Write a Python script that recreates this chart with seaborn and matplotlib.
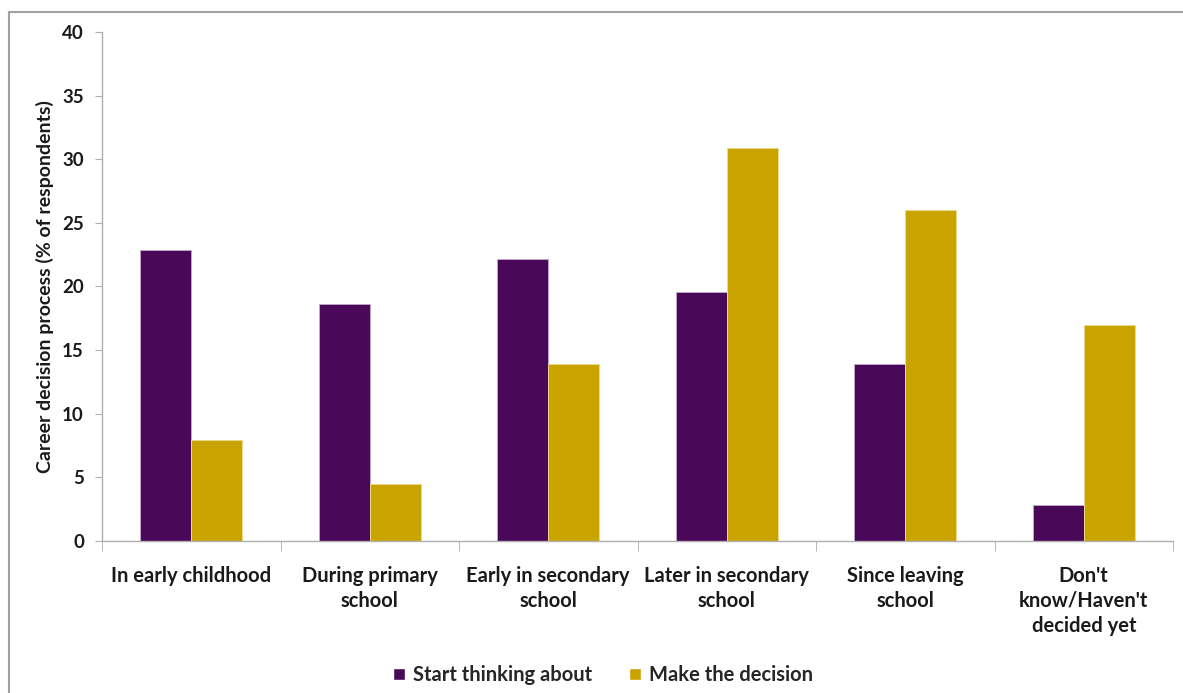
import matplotlib
matplotlib.use("Agg")
import matplotlib.pyplot as plt
import seaborn as sns
import pandas as pd
from matplotlib.lines import Line2D
from matplotlib.patches import Patch

categories = ["In early childhood", "During primary\nschool", "Early in secondary\nschool",
              "Later in secondary\nschool", "Since leaving\nschool", "Don't\nknow/Haven't\ndecided yet"]
series_names = ["Start thinking about", "Make the decision"]
start_thinking = [22.9, 18.6, 22.2, 19.6, 13.9, 2.8]
make_decision = [7.9, 4.5, 13.9, 30.9, 26.0, 17.0]
y_ticks = [0, 5, 10, 15, 20, 25, 30, 35, 40]
colors = ["#4A0858", "#C9A400"]
edge_colors = ["#c0a4c8", "#ecd98a"]

df = pd.DataFrame({
    "category": categories * 2,
    "series": [series_names[0]] * len(categories) + [series_names[1]] * len(categories),
    "value": start_thinking + make_decision,
})

sns.set_style("white")
plt.rcParams["font.family"] = ["Lato", "DejaVu Sans"]
plt.rcParams["font.weight"] = "bold"

fig = plt.figure(figsize=(11.83, 6.93), dpi=100)
ax = fig.add_axes([102 / 1183, 1 - 541 / 693, (1173 - 102) / 1183, (541 - 32) / 693])

sns.barplot(data=df, x="category", y="value", hue="series", order=categories,
            hue_order=series_names, palette=colors, saturation=1, width=0.572, gap=0,
            ax=ax, legend=False)

for i, cont in enumerate(ax.containers):
    for p in cont:
        p.set_edgecolor(edge_colors[i])
        p.set_linewidth(0.7)

ax.set_xlim(-0.5, len(categories) - 0.5)
ax.set_ylim(0, 40)
ax.set_yticks(y_ticks)
ax.set_yticklabels([str(t) for t in y_ticks], fontsize=13.5, fontweight="bold", color="#1a1a1a")
ax.set_xticks(range(len(categories)))
ax.set_xticklabels(categories, fontsize=14.5, fontweight="bold", color="#1a1a1a", linespacing=1.3)
ax.tick_params(axis="x", which="major", length=0, pad=18)
ax.set_xticks([i - 0.5 for i in range(len(categories) + 1)], minor=True)
ax.tick_params(axis="x", which="minor", length=7, color="#b0b0b0", direction="out", bottom=True)
ax.tick_params(axis="y", length=5, color="#b0b0b0", direction="out", left=True, pad=8)
ax.set_xlabel("")
ax.set_ylabel("Career decision process (% of respondents)", fontsize=14, fontweight="bold",
              color="#1a1a1a", labelpad=6)

for s in ["top", "right"]:
    ax.spines[s].set_visible(False)
for s in ["left", "bottom"]:
    ax.spines[s].set_color("#b0b0b0")
    ax.spines[s].set_linewidth(1.0)

handles = [Patch(facecolor=colors[0], label=series_names[0]),
           Patch(facecolor=colors[1], label=series_names[1])]
fig.legend(handles=handles, loc="center", bbox_to_anchor=(603 / 1183, 1 - 675 / 693), ncol=2,
           frameon=False, handlelength=0.6, handleheight=0.6, handletextpad=0.4,
           columnspacing=1.8, prop={"weight": "bold", "size": 14.5})

# outer chart border
fig.add_artist(Line2D([9 / 1183, 9 / 1183], [0, 1 - 12 / 693], transform=fig.transFigure,
                      color="#a0a0a0", linewidth=1.5))
fig.add_artist(Line2D([9 / 1183, 1], [1 - 12 / 693, 1 - 12 / 693], transform=fig.transFigure,
                      color="#a0a0a0", linewidth=1.5))

fig.savefig("out.png", dpi=100)
